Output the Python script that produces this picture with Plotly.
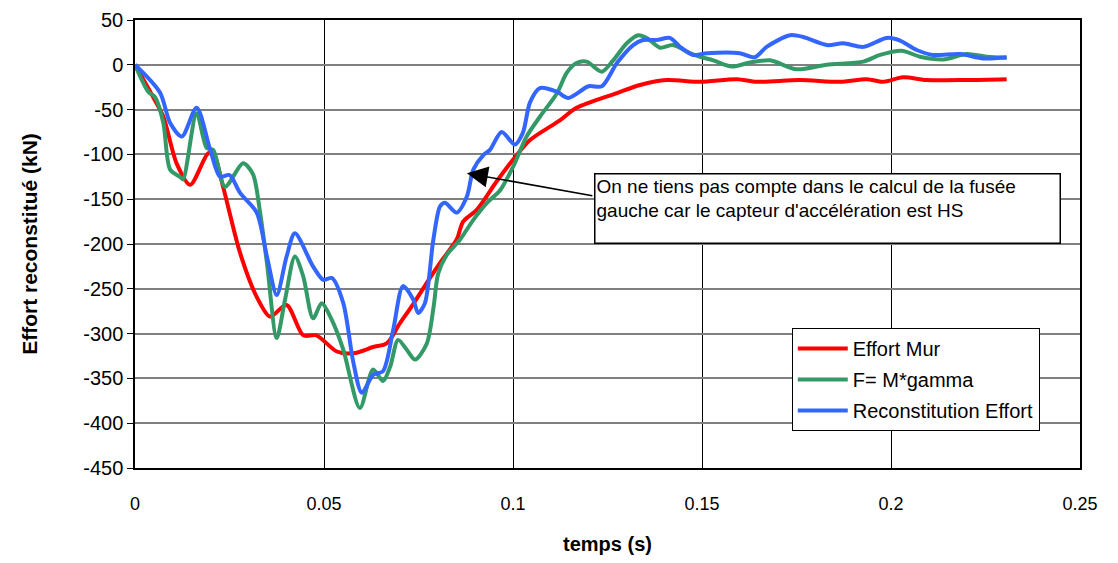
import plotly.graph_objects as go

# Effort Mur (red)
t_mur = [0, 0.0048, 0.0075, 0.011, 0.0146, 0.0193, 0.0207, 0.0233, 0.0278,
         0.0322, 0.0357, 0.0401, 0.0445, 0.048, 0.0534, 0.0578, 0.063, 0.0666,
         0.07, 0.0736, 0.078, 0.0807, 0.0851, 0.0868, 0.0904, 0.0957, 0.1,
         0.1045, 0.1124, 0.1168, 0.1275, 0.1336, 0.1407, 0.1495, 0.1592,
         0.1645, 0.1759, 0.1865, 0.1936, 0.1979, 0.2032, 0.2095, 0.22, 0.2306]
f_mur = [0, -36, -58, -110, -134, -99, -99, -136, -210,
         -259, -281, -268, -302, -302, -320, -322, -315, -311,
         -289, -267, -238, -221, -195, -175, -162, -130, -106,
         -84, -62, -48, -31.5, -22.5, -17, -19, -16,
         -19, -17, -19, -16, -19, -14, -17, -17, -16]

# F= M*gamma (green)
t_gamma = [0, 0.0035, 0.0053, 0.0075, 0.0093, 0.0119, 0.0127, 0.0163, 0.019,
           0.0207, 0.0238, 0.0286, 0.0312, 0.033, 0.0349, 0.0375, 0.0397,
           0.0423, 0.0445, 0.0471, 0.0494, 0.0521, 0.0551, 0.0595, 0.063,
           0.0656, 0.0675, 0.0696, 0.0719, 0.0741, 0.0772, 0.079, 0.0802,
           0.0825, 0.086, 0.0895, 0.0931, 0.0966, 0.1, 0.1036, 0.1071, 0.1116,
           0.1142, 0.1168, 0.1195, 0.1235, 0.1265, 0.1301, 0.1331, 0.1354,
           0.1389, 0.1423, 0.1468, 0.1495, 0.153, 0.1579, 0.1627, 0.168,
           0.175, 0.183, 0.1927, 0.1971, 0.2028, 0.2077, 0.2138, 0.22, 0.2253,
           0.2306]
f_gamma = [0, -30, -36, -65, -117, -125, -128, -54, -93,
           -95, -136, -110, -122, -162, -221, -305, -262,
           -214, -236, -283, -266, -285, -318, -383, -340,
           -353, -337, -307, -318, -329, -311, -270, -233,
           -212, -195, -173, -154, -140, -114, -80, -58, -32,
           -9, 2, 3.5, -7.7, 5, 24, 33, 30,
           19, 22, 13, 9, 5, -2, 2.5, 5,
           -5, 0, 3.5, 11, 15.7, 9, 6, 12, 9,
           8]

# Reconstitution Effort (blue)
t_recon = [0, 0.0066, 0.0093, 0.0124, 0.0163, 0.0199, 0.0225, 0.025, 0.0278,
           0.0322, 0.0349, 0.0375, 0.0401, 0.0423, 0.0471, 0.0498, 0.0521,
           0.0551, 0.0578, 0.06, 0.063, 0.0656, 0.0683, 0.0709, 0.0736,
           0.0749, 0.0767, 0.0789, 0.0807, 0.082, 0.0851, 0.0878, 0.0895,
           0.0921, 0.0939, 0.097, 0.1005, 0.1026, 0.1045, 0.1071, 0.1116,
           0.1146, 0.12, 0.1235, 0.1275, 0.1318, 0.1344, 0.138, 0.1415,
           0.1442, 0.1476, 0.1513, 0.16, 0.164, 0.1671, 0.1733, 0.1768, 0.183,
           0.1874, 0.1927, 0.1989, 0.2024, 0.2068, 0.2111, 0.2183, 0.2244,
           0.2306]
f_recon = [0, -31, -65, -80, -48, -95, -125, -123, -143,
           -165, -214, -257, -214, -188, -225, -240, -238,
           -266, -333, -366, -346, -342, -296, -247, -262,
           -277, -266, -196, -158, -154, -165, -147, -117,
           -101, -95, -75, -89, -76, -42, -26, -30,
           -37, -24, -24, 2, 22, 27.6, 27.6, 30,
           20, 11, 13, 13, 8.4, 20, 33, 31, 22,
           24, 20, 30, 27, 16.5, 11, 12, 7,
           8.4]

y_ticks = [50, 0, -50, -100, -150, -200, -250, -300, -350, -400, -450]
y_tick_labels = ["50", "0", "-50", "-100", "-150", "-200", "-250", "-300",
                 "-350", "-400", "-450"]
x_ticks = [0, 0.05, 0.1, 0.15, 0.2, 0.25]
x_tick_labels = ["0", "0.05", "0.1", "0.15", "0.2", "0.25"]

series_names = ["Effort Mur", "F= M*gamma", "Reconstitution Effort"]
colors = ["#FF0000", "#339966", "#3366FF"]

note_text = ("On ne tiens pas compte dans le calcul de la fusée<br>"
             "gauche car le capteur d'accélération est HS")

FONT = "Liberation Sans, Arial"
NARROW = "Liberation Sans Narrow, Arial Narrow, Liberation Sans"

fig = go.Figure()
for name, color, t, f in zip(series_names, colors,
                             [t_mur, t_gamma, t_recon],
                             [f_mur, f_gamma, f_recon]):
    fig.add_trace(go.Scatter(x=t, y=f, name=name, mode="lines",
                             legendgroup=name,
                             line=dict(color=color, width=4,
                                       shape="spline", smoothing=0.8)))

# arrow pointing at the blue curve
fig.add_annotation(x=0.0878, y=-121, ax=0.1214, ay=-146.5,
                   xref="x", yref="y", axref="x", ayref="y",
                   text="", showarrow=True, arrowhead=2, arrowsize=2.8,
                   arrowwidth=1.5, arrowcolor="black")
# text box
fig.add_annotation(x=0.1214, y=-121, xref="x", yref="y",
                   xanchor="left", yanchor="top", showarrow=False,
                   text=note_text, align="left", valign="top",
                   width=462, height=66, borderpad=1,
                   bordercolor="black", borderwidth=1.5, bgcolor="white",
                   font=dict(family=FONT, size=19, color="black"))

fig.update_layout(
    width=1118, height=563,
    margin=dict(l=127, r=46, t=12, b=103, autoexpand=False),
    paper_bgcolor="white", plot_bgcolor="white",
    font=dict(family=FONT, color="black"),
    legend=dict(x=0.695, y=0.3125, xanchor="left", yanchor="top",
                bgcolor="white", bordercolor="black", borderwidth=1,
                font=dict(size=20), itemwidth=50, tracegroupgap=2),
    showlegend=True,
)
fig.update_xaxes(
    range=[0, 0.25], tickmode="array", tickvals=x_ticks,
    ticktext=x_tick_labels,
    showgrid=True, gridcolor="black", gridwidth=1,
    showline=True, linecolor="black", linewidth=1.5, mirror=True,
    zeroline=False, ticks="", ticklabelstandoff=19,
    tickfont=dict(family=NARROW, size=18),
    title=dict(text="<b>temps (s)</b>", standoff=24,
               font=dict(family=NARROW, size=20)),
)
fig.update_yaxes(
    range=[-450, 50], tickmode="array", tickvals=y_ticks,
    ticktext=y_tick_labels,
    showgrid=True, gridcolor="#808080", gridwidth=2,
    showline=True, linecolor="black", linewidth=1.5, mirror=True,
    zeroline=False, ticks="outside", ticklen=6, tickcolor="black",
    tickfont=dict(size=20),
    title=dict(text="<b>Effort reconstitué (kN)</b>", standoff=40,
               font=dict(size=21)),
)

fig.write_html("out.html")
